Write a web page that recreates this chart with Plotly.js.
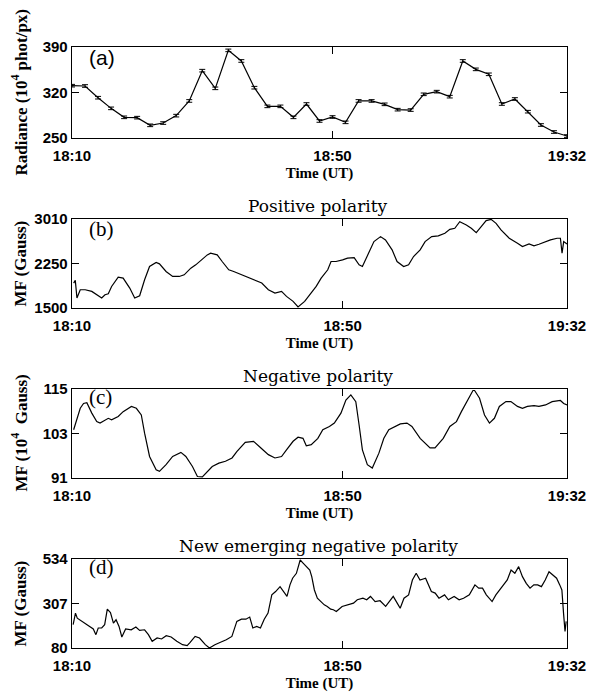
<!DOCTYPE html>
<html><head><meta charset="utf-8">
<script src="https://cdn.plot.ly/plotly-3.0.1.min.js"></script>
<style>html,body{margin:0;padding:0;background:#fff}</style>
</head><body><div id="chart" style="width:599px;height:692px"></div>
<script>
// ---- data ----
const timeTickText = ['18:10', '18:50', '19:32'];

// (a) Radiance, 39 frames
const radFrame = [0,1,2,3,4,5,6,7,8,9,10,11,12,13,14,15,16,17,18,19,20,21,22,23,24,25,26,27,28,29,30,31,32,33,34,35,36,37,38];
const radValue = [330.5,330,312,295.6,281.8,281.3,269.5,273,284.4,307,353.6,326.4,384.8,368.5,327.4,298.7,298.7,281.8,302.3,276.2,282.3,274.1,307,307,301.8,293.6,293,317.2,321.3,313.6,368.5,355.6,348,302.3,310,290.5,270,259.2,253];
const radError = [2,2,2,2,2,2,2,2,2,2,2,2,2,2,2,2,2,2,2,2,2,2,2,2,2,2,2,2,2,2,2,2,2,2,2,2,2,2,2];
const radTickVals = [0, 20, 38];

// (b) Positive polarity (frame, Gauss)
const posFrame = [1,2,3,5,8,12,18,20,22,24,28,31,35,38,41,44,47,51,53,57,61,65,68,72,75,79,82,84,88,91,95,98,103,107,112,115,119,123,127,130,134,137,141,144,148,151,155,157,160,164,167,171,174,176,180,183,187,190,194,197,201,204,207,211,214,218,222,226,229,232,235,239,242,245,248,251,254,257,260,265,270,273,277,280,283,287,290,294,296,297,298,300];
const posValue = [1923,1968,1669,1810,1810,1782,1669,1725,1742,1866,2024,2007,1838,1669,1708,1979,2204,2272,2249,2120,2035,2035,2063,2176,2232,2328,2401,2430,2401,2289,2148,2120,2063,2007,1951,1923,1810,1754,1782,1697,1613,1517,1613,1725,1866,2007,2148,2289,2289,2317,2345,2356,2232,2204,2430,2627,2711,2655,2486,2289,2204,2232,2373,2486,2627,2711,2723,2768,2835,2852,2965,2909,2852,2779,2880,2982,3004,2937,2824,2683,2599,2542,2587,2554,2582,2627,2655,2683,2683,2430,2627,2587];

// (c) Negative polarity (frame, 10^4 Gauss)
const negFrame = [1,3,5,7,9,12,15,17,20,22,24,28,31,36,39,42,44,47,51,53,57,61,66,69,73,76,79,82,85,89,93,97,100,105,110,114,119,123,127,130,134,137,140,142,145,149,152,156,159,163,166,169,172,174,176,179,182,186,189,192,196,199,203,206,211,217,220,225,229,233,236,240,243,244,247,250,253,256,259,263,266,270,273,276,280,283,287,291,296,298,300];
const negValue = [104,107.1,109.8,111.1,111.3,108.5,106.2,105.8,106.7,107.1,106.7,107.6,108.9,110.3,109.8,108,103.1,96.8,93.2,92.8,94.6,96.8,97.9,96.8,94.1,91.4,91.3,92.8,94.1,95,95.5,96.4,98.2,100.6,100.9,99.3,97.3,96.4,96.8,98.6,100.9,102,101.7,99.7,100,101.7,104,104.9,105.8,108.5,112,113.4,111.6,105.3,98.6,94.6,93.7,97.7,101.7,104,104.9,105.6,105.8,104.9,101.7,99.1,99.1,101.7,104.9,106.2,108.9,112,114.6,114.6,112.5,108,105.8,107.1,110.3,111.6,111.6,110.3,109.8,110.3,110.5,110.3,110.7,111.6,111.9,111.1,110.7];

// (d) New emerging negative polarity (frame, Gauss)
const newFrame = [0.7,2.1,3.2,4.6,6.0,8.3,10.6,12.9,14.5,15.9,18.0,19.8,21.4,23.3,25.1,26.7,28.5,30.2,32.5,35.9,38.7,41.0,44.0,46.3,48.6,51.6,54.3,57.1,60.1,63.5,67.0,69.8,71.6,74.6,77.3,80.8,83.3,86.6,90.0,93.5,96.9,99.9,102.7,105.4,107.7,109.6,111.9,114.2,116.5,118.8,121.1,123.4,126.1,128.4,130.3,132.1,133.7,136.0,137.2,138.3,140.2,142.3,144.1,145.3,146.9,148.7,151.0,152.9,154.7,156.8,158.4,160.2,163.7,167.1,170.6,172.9,176.3,178.6,180.9,183.7,186.7,190.1,192.4,194.7,197.1,198.9,201.2,204.0,206.3,208.6,210.9,214.3,217.8,220.1,222.4,225.8,228.1,231.6,234.6,237.3,240.8,244.2,246.5,248.8,251.1,254.6,256.9,259.2,261.5,263.8,266.1,268.4,270.7,273.0,275.3,277.6,279.9,282.2,284.5,286.8,289.1,291.4,293.7,295.6,296.9,297.9,298.8,299.5];
const newValue = [199,258,232,224,215,199,187,177,148,182,182,199,278,261,207,224,190,136,177,173,187,170,173,148,114,131,126,143,136,114,97,92,109,139,131,97,80,97,109,122,139,216,227,227,238,182,190,182,227,258,351,368,393,368,343,402,436,461,495,529,512,495,478,444,376,334,317,300,292,278,275,266,292,300,309,326,334,326,343,317,321,292,317,343,309,283,334,351,427,461,427,436,368,360,334,351,326,343,326,334,351,402,385,385,351,317,351,377,402,427,478,461,495,444,410,385,402,402,393,427,469,453,436,402,376,258,165,216];
const fieldTickVals = [0, 164, 300];

const radTicks = [250, 320, 390];
const posTicks = [1500, 2250, 3010];
const negTicks = [91, 103, 115];
const newTicks = [80, 307, 534];

// ---- layout ----
const W = 599, H = 692;
const xDom = [72 / W, 567 / W];
function yDom(top, bottom) { return [1 - bottom / H, 1 - top / H]; }

const tickFont = {family: 'Liberation Sans, Arial, sans-serif', size: 15, color: '#000', weight: 'bold'};
const titleFont = {family: 'Liberation Serif, serif', size: 15, color: '#000', weight: 'bold'};
const yTitleFont = {family: 'Liberation Serif, serif', size: 17, color: '#000', weight: 'bold'};

function xAxis(anchor, range, tickvals) {
  return {
    domain: xDom, anchor: anchor, range: range, tickmode: 'array',
    tickvals: tickvals, ticktext: timeTickText, ticks: 'inside', ticklen: 7, tickwidth: 1,
    tickcolor: '#000', showline: true, linecolor: '#000', linewidth: 1.3, mirror: 'allticks',
    showgrid: false, zeroline: false, tickfont: tickFont, ticklabelstandoff: 4,
    title: {text: 'Time (UT)', font: titleFont, standoff: 4}
  };
}
function yAxis(anchor, dom, range, tickvals) {
  return {
    domain: dom, anchor: anchor, range: range, tickmode: 'array',
    tickvals: tickvals, ticks: 'inside', ticklen: 7, tickwidth: 1,
    tickcolor: '#000', showline: true, linecolor: '#000', linewidth: 1.3, mirror: 'allticks',
    showgrid: false, zeroline: false, tickfont: tickFont
  };
}

const lineStyle = {color: '#000', width: 1.2};
const traces = [
  {x: radFrame, y: radValue, type: 'scatter', mode: 'lines', line: lineStyle,
   error_y: {type: 'data', array: radError, visible: true, color: '#000', thickness: 1, width: 3},
   xaxis: 'x', yaxis: 'y'},
  {x: posFrame, y: posValue, type: 'scatter', mode: 'lines', line: lineStyle, xaxis: 'x2', yaxis: 'y2'},
  {x: negFrame, y: negValue, type: 'scatter', mode: 'lines', line: lineStyle, xaxis: 'x3', yaxis: 'y3'},
  {x: newFrame, y: newValue, type: 'scatter', mode: 'lines', line: lineStyle, xaxis: 'x4', yaxis: 'y4'}
];

const domA = yDom(47, 138), domB = yDom(219, 308), domC = yDom(389, 478), domD = yDom(559, 648);

function yTitle(text, dom) {
  return {text: text, textangle: -90, xref: 'paper', yref: 'paper', x: 20 / W, y: (dom[0] + dom[1]) / 2,
          xanchor: 'center', yanchor: 'middle', showarrow: false, font: yTitleFont};
}
function panelTitle(text, yPix) {
  return {text: text, xref: 'paper', yref: 'paper', x: 318 / W, y: 1 - yPix / H, xanchor: 'center', yanchor: 'middle',
          showarrow: false, font: {family: 'DejaVu Serif, serif', size: 17, color: '#000'}};
}
function panelLabel(text, xa, ya, fam, yy) {
  return {text: text, xref: xa + ' domain', yref: ya + ' domain', x: 0.03, y: yy, xanchor: 'left', yanchor: 'middle',
          showarrow: false, font: {family: fam, size: 21, color: '#000'}};
}

const layout = {
  width: W, height: H, margin: {l: 0, r: 0, t: 0, b: 0}, showlegend: false,
  paper_bgcolor: '#fff', plot_bgcolor: '#fff',
  xaxis: xAxis('y', [0, 38], radTickVals),
  yaxis: yAxis('x', domA, [250, 390], radTicks),
  xaxis2: xAxis('y2', [0, 300], fieldTickVals),
  yaxis2: yAxis('x2', domB, [1500, 3010], posTicks),
  xaxis3: xAxis('y3', [0, 300], fieldTickVals),
  yaxis3: yAxis('x3', domC, [91, 115], negTicks),
  xaxis4: xAxis('y4', [0, 300], fieldTickVals),
  yaxis4: yAxis('x4', domD, [80, 534], newTicks),
  annotations: [
    yTitle('Radiance (10<sup>4</sup> phot/px)', domA),
    yTitle('MF (Gauss)', domB),
    yTitle('MF (10<sup>4</sup>  Gauss)', domC),
    yTitle('MF (Gauss)', domD),
    panelTitle('Positive polarity', 206),
    panelTitle('Negative polarity', 376),
    panelTitle('New emerging negative polarity', 546),
    panelLabel('(a)', 'x', 'y', 'Liberation Sans, Arial, sans-serif', 0.89),
    panelLabel('(b)', 'x2', 'y2', 'Liberation Serif, serif', 0.89),
    panelLabel('(c)', 'x3', 'y3', 'Liberation Serif, serif', 0.91),
    panelLabel('(d)', 'x4', 'y4', 'Liberation Serif, serif', 0.91)
  ]
};

Plotly.newPlot('chart', traces, layout, {staticPlot: true, displayModeBar: false});
</script>
</body></html>
